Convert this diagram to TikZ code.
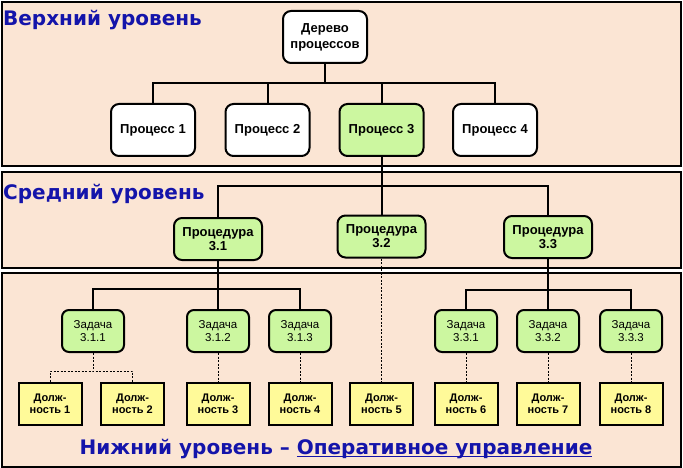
\documentclass[tikz,border=0pt]{standalone}
\usepackage{fontspec}
\setmainfont{Liberation Sans}
\newfontfamily\headfont{DejaVu Sans Bold}
\newcommand\uln[1]{\setbox0\hbox{#1}\rlap{\rule[-3pt]{\wd0}{1.6pt}}\box0}
\definecolor{band}{HTML}{FBE5D4}
\definecolor{leaf}{HTML}{CCF7A0}
\definecolor{postc}{HTML}{FFFA99}
\definecolor{title}{HTML}{1414AA}

\begin{document}
\begin{tikzpicture}[x=1pt,y=-1pt,
  lvl/.style={draw,line width=1.2pt,fill=band},
  ttl/.style={text=title,inner sep=0pt,font=\headfont\fontsize{20}{22}\selectfont},
  box/.style={draw,line width=2pt,rounded corners=8pt,align=center,inner sep=0pt},
  proc/.style={box,fill=white,minimum width=84pt,minimum height=52pt,font=\fontsize{13}{16}\selectfont\bfseries},
  sub/.style={box,fill=leaf,minimum width=88pt,minimum height=42pt,font=\fontsize{13}{14}\selectfont\bfseries},
  task/.style={box,fill=leaf,rounded corners=7pt,minimum width=62pt,minimum height=42pt,font=\fontsize{11.5}{13}\selectfont},
  job/.style={draw,line width=2pt,fill=postc,align=center,inner sep=0pt,minimum width=63pt,minimum height=42pt,font=\fontsize{11}{12}\selectfont\bfseries},
  link/.style={line width=2pt},
  dots/.style={line width=1pt,dash pattern=on 2pt off 1.5pt}]
  \useasboundingbox (0,0) rectangle (683,468);
  %
  \draw[lvl] (2,2) rectangle (681,166);
  \draw[lvl] (2,172) rectangle (681,268);
  \draw[lvl] (2,273) rectangle (681,467);
  %
  \node[ttl,anchor=west] (top) at (3,20) {Верхний уровень};
  \node[ttl,anchor=west] (mid) at (3,194) {Средний уровень};
  \node[ttl] (low) at (336,449) {Нижний уровень – \uln{Оперативное управление}};
  %
  \node[proc] (tree) at (325,37) {Дерево\\процессов};
  \node[proc] (p1) at (153,130) {Процесс 1};
  \node[proc] (p2) at (267.5,130) {Процесс 2};
  \node[proc,fill=leaf] (p3) at (381.5,130) {Процесс 3};
  \node[proc] (p4) at (495,130) {Процесс 4};
  %
  \node[sub] (pr1) at (218,239) {Процедура\\3.1};
  \node[sub] (pr2) at (381.5,236.5) {Процедура\\3.2};
  \node[sub] (pr3) at (548,237) {Процедура\\3.3};
  %
  \node[task] (z11) at (93,331) {Задача\\3.1.1};
  \node[task] (z12) at (218,331) {Задача\\3.1.2};
  \node[task] (z13) at (300,331) {Задача\\3.1.3};
  \node[task] (z31) at (466,331) {Задача\\3.3.1};
  \node[task] (z32) at (548,331) {Задача\\3.3.2};
  \node[task] (z33) at (631,331) {Задача\\3.3.3};
  %
  \node[job] (d1) at (50,403.5) {Долж-\\ность 1};
  \node[job] (d2) at (132.5,403.5) {Долж-\\ность 2};
  \node[job] (d3) at (218,403.5) {Долж-\\ность 3};
  \node[job] (d4) at (300,403.5) {Долж-\\ность 4};
  \node[job] (d5) at (381.5,403.5) {Долж-\\ность 5};
  \node[job] (d6) at (466,403.5) {Долж-\\ность 6};
  \node[job] (d7) at (548,403.5) {Долж-\\ность 7};
  \node[job] (d8) at (631,403.5) {Долж-\\ность 8};
  %
  \coordinate (b1) at (325,83);
  \draw[link] (tree) -- (b1);
  \draw[link] (p1) |- (b1) -| (p4);
  \draw[link] (p2) -- (p2 |- b1);
  \draw[link] (p3) -- (p3 |- b1);
  %
  \coordinate (b2) at (381.5,186);
  \draw[link] (p3) -- (pr2);
  \draw[link] (pr1) |- (b2) -| (pr3);
  %
  \coordinate (b3) at (218,289);
  \coordinate (b4) at (548,290);
  \draw[link] (pr1) -- (z12);
  \draw[link] (z11) |- (b3) -| (z13);
  \draw[link] (pr3) -- (z32);
  \draw[link] (z31) |- (b4) -| (z33);
  %
  \coordinate (b5) at (93,371);
  \draw[dots] (z11) -- (b5);
  \draw[dots] (d1) |- (b5) -| (d2);
  \draw[dots] (pr2) -- (d5);
  \foreach \a/\b in {z12/d3,z13/d4,z31/d6,z32/d7,z33/d8}
    \draw[dots] (\a) -- (\b);
\end{tikzpicture}
\end{document}
